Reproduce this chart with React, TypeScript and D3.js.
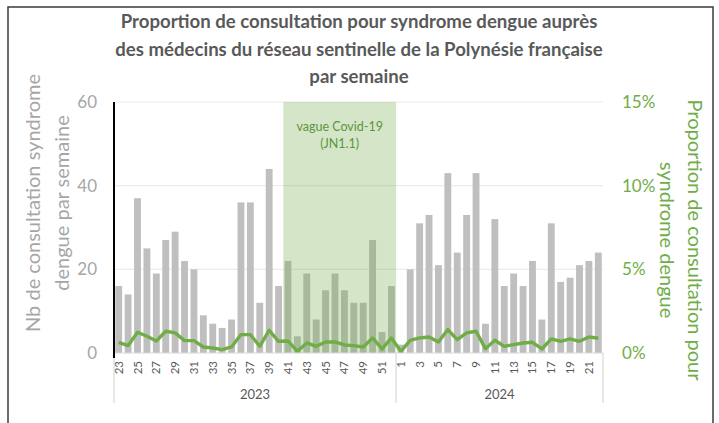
import * as d3 from "d3";

const weeks2023 = [23, 24, 25, 26, 27, 28, 29, 30, 31, 32, 33, 34, 35, 36, 37, 38, 39, 40, 41, 42, 43, 44, 45, 46, 47, 48, 49, 50, 51, 52];
const weeks2024 = [1, 2, 3, 4, 5, 6, 7, 8, 9, 10, 11, 12, 13, 14, 15, 16, 17, 18, 19, 20, 21, 22];

// nb de consultations syndrome dengue
const counts2023 = [16, 14, 37, 25, 19, 27, 29, 22, 20, 9, 7, 6, 8, 36, 36, 12, 44, 16, 22, 4, 19, 8, 15, 19, 15, 12, 12, 27, 5, 16];
const counts2024 = [2, 20, 31, 33, 21, 43, 24, 33, 43, 7, 32, 16, 19, 16, 22, 8, 31, 17, 18, 21, 22, 24];

// proportion (%)
const prop2023 = [0.64, 0.44, 1.24, 1.0, 0.72, 1.3, 1.2, 0.74, 0.74, 0.36, 0.3, 0.2, 0.36, 1.1, 1.1, 0.4, 1.36, 0.7, 0.72, 0.1, 0.6, 0.4, 0.66, 0.66, 0.48, 0.44, 0.36, 0.9, 0.24, 0.9];
const prop2024 = [0.1, 0.76, 0.9, 0.96, 0.66, 1.4, 0.8, 1.2, 1.3, 0.26, 0.76, 0.4, 0.5, 0.6, 0.64, 0.24, 0.84, 0.7, 0.84, 0.7, 0.96, 0.88];

const leftTicks = [0, 20, 40, 60];
const rightTicks = [0, 5, 10, 15];
const covidStart = "2023-41";
const covidEnd = "2023-52";

const titleLines = [
  "Proportion de consultation pour syndrome dengue auprès",
  "des médecins du réseau sentinelle de la Polynésie française",
  "par semaine",
];

type Row = { key: string; year: number; week: number; count: number; prop: number };

const rows: Row[] = [
  ...weeks2023.map((w, i) => ({ key: `2023-${w}`, year: 2023, week: w, count: counts2023[i], prop: prop2023[i] })),
  ...weeks2024.map((w, i) => ({ key: `2024-${w}`, year: 2024, week: w, count: counts2024[i], prop: prop2024[i] })),
];

const W = 719;
const H = 423;
const plot = { left: 114, right: 603, top: 102, bottom: 353 };
const font = "Lato, 'Open Sans', sans-serif";
const green = "#70ad47";
const gray = "#a6a6a6";
const dark = "#595959";

export default function App() {
  const pad = 0.27;
  const x = d3
    .scaleBand<string>()
    .domain(rows.map((d) => d.key))
    .range([plot.left, plot.right])
    .paddingInner(pad)
    .paddingOuter(pad / 2);
  const step = x.step();
  const slotStart = (k: string) => (x(k) as number) - (step * pad) / 2;
  const center = (k: string) => (x(k) as number) + x.bandwidth() / 2;

  const yL = d3.scaleLinear().domain([0, 60]).range([plot.bottom, plot.top]);
  const yR = d3.scaleLinear().domain([0, 15]).range([plot.bottom, plot.top]);

  const line = d3
    .line<Row>()
    .x((d) => center(d.key))
    .y((d) => yR(d.prop));

  const covidX0 = slotStart(covidStart);
  const covidX1 = slotStart(covidEnd) + step;

  const yearBreak = slotStart(`2024-${weeks2024[0]}`);
  const years = [
    { label: "2023", x0: plot.left, x1: yearBreak },
    { label: "2024", x0: yearBreak, x1: plot.right },
  ];

  return (
    <svg
      width={W}
      height={H}
      style={{ position: "absolute", left: 0, top: 0, background: "#fff" }}
      fontFamily={font}
    >
      <rect x={8} y={7} width={705} height={440} fill="#fff" stroke="#3a3a3a" strokeWidth={1.5} />

      {titleLines.map((t, i) => (
        <text key={i} x={359} y={28 + i * 27.5} textAnchor="middle" fontSize={18.6} fontWeight="bold" fill={dark}>
          {t}
        </text>
      ))}

      {/* gridlines */}
      {leftTicks.filter((t) => t > 0).map((t) => (
        <line key={t} x1={plot.left} x2={plot.right} y1={yL(t)} y2={yL(t)} stroke="#ececec" strokeWidth={1.2} />
      ))}

      {/* bars */}
      {rows.map((d) => (
        <rect
          key={d.key}
          x={x(d.key)}
          y={yL(d.count)}
          width={x.bandwidth()}
          height={plot.bottom - yL(d.count)}
          fill="#bfbfbf"
        />
      ))}

      {/* covid wave shading */}
      <rect
        x={covidX0}
        y={plot.top}
        width={covidX1 - covidX0}
        height={plot.bottom - plot.top}
        fill="rgba(112,173,71,0.3)"
      />
      <text x={(covidX0 + covidX1) / 2} y={131} textAnchor="middle" fontSize={12.5} fill="#5e9440">
        vague Covid-19
      </text>
      <text x={(covidX0 + covidX1) / 2} y={148} textAnchor="middle" fontSize={12.5} fill="#5e9440">
        (JN1.1)
      </text>

      {/* proportion line */}
      <path d={line(rows) ?? ""} fill="none" stroke={green} strokeWidth={3.4} strokeLinejoin="round" />

      {/* category axis */}
      <line x1={plot.left} x2={plot.right} y1={plot.bottom} y2={plot.bottom} stroke="#d9d9d9" strokeWidth={1} />
      {[plot.left, yearBreak, plot.right].map((v, i) => (
        <line key={i} x1={v} x2={v} y1={plot.bottom} y2={403} stroke="#d9d9d9" strokeWidth={1.2} />
      ))}
      {rows.map((d, i) =>
        i % 2 === 0 ? (
          <text
            key={d.key}
            transform={`translate(${center(d.key) + 4},361) rotate(-90)`}
            textAnchor="end"
            fontSize={11.5}
            fill={dark}
          >
            {d.week}
          </text>
        ) : null
      )}
      {years.map((yr) => (
        <text key={yr.label} x={(yr.x0 + yr.x1) / 2} y={399} textAnchor="middle" fontSize={13} fill={dark}>
          {yr.label}
        </text>
      ))}

      {/* left axis */}
      <line x1={plot.left} x2={plot.left} y1={plot.top} y2={358} stroke="#000" strokeWidth={2} />
      {leftTicks.map((t) => (
        <text key={t} x={97} y={yL(t) + 6} textAnchor="end" fontSize={17} fill={gray}>
          {t}
        </text>
      ))}
      <g transform="translate(0,203) rotate(-90)">
        <text x={0} y={40} textAnchor="middle" fontSize={20} fill={gray}>
          Nb de consultation syndrome
        </text>
        <text x={0} y={69} textAnchor="middle" fontSize={20} fill={gray}>
          dengue par semaine
        </text>
      </g>

      {/* right axis */}
      {rightTicks.map((t) => (
        <text key={t} x={622} y={yR(t) + 6} textAnchor="start" fontSize={17} fill={green}>
          {t}%
        </text>
      ))}
      <g transform="translate(0,240) rotate(90)">
        <text x={0} y={-688} textAnchor="middle" fontSize={20} fill={green}>
          Proportion de consultation pour
        </text>
        <text x={0} y={-660} textAnchor="middle" fontSize={20} fill={green}>
          syndrome dengue
        </text>
      </g>
    </svg>
  );
}
